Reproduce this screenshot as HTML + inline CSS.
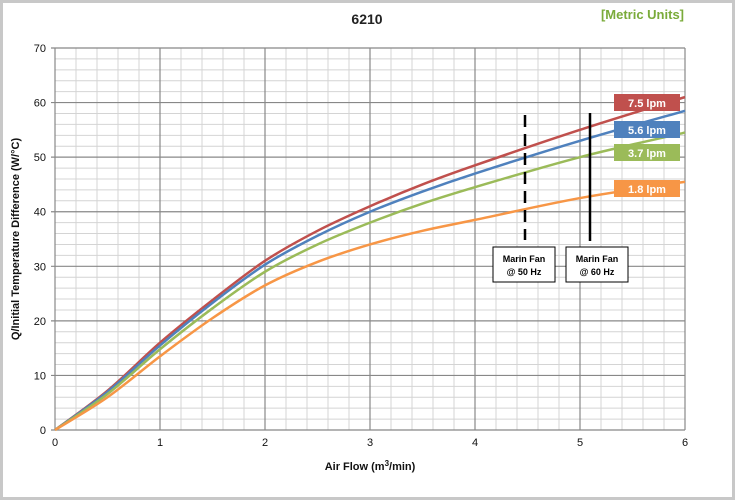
<!DOCTYPE html>
<html><head><meta charset="utf-8"><style>
body{margin:0;background:#fff}
svg{display:block;font-family:"Liberation Sans",Arial,sans-serif}
</style></head><body>
<svg id="s" width="735" height="500" viewBox="0 0 735 500">
<rect x="1.5" y="1.5" width="732" height="497" fill="#fff" stroke="#c8c8c8" stroke-width="3"/>
<g id="grid"></g>
<g id="curves"></g>
<text x="367" y="24" font-size="14" font-weight="bold" text-anchor="middle" fill="#222">6210</text>
<text x="684" y="19" font-size="13" font-weight="bold" text-anchor="end" fill="#7aab3a">[Metric Units]</text>
<text x="370" y="470" font-size="11" font-weight="bold" text-anchor="middle" fill="#111">Air Flow (m<tspan font-size="8" dy="-4">3</tspan><tspan dy="4">/min)</tspan></text>
<text transform="translate(19,239) rotate(-90)" font-size="11" font-weight="bold" text-anchor="middle" fill="#111">Q/Initial Temperature Difference (W/°C)</text>
<line x1="525" y1="115" x2="525" y2="240" stroke="#000" stroke-width="2.5" stroke-dasharray="12,7"/>
<line x1="590" y1="113" x2="590" y2="241" stroke="#000" stroke-width="2.5"/>
<rect x="493" y="247" width="62" height="35" fill="#fff" stroke="#000" stroke-width="1"/>
<text x="524" y="262" font-size="9" font-weight="bold" text-anchor="middle">Marin Fan</text>
<text x="524" y="275" font-size="9" font-weight="bold" text-anchor="middle">@ 50 Hz</text>
<rect x="566" y="247" width="62" height="35" fill="#fff" stroke="#000" stroke-width="1"/>
<text x="597" y="262" font-size="9" font-weight="bold" text-anchor="middle">Marin Fan</text>
<text x="597" y="275" font-size="9" font-weight="bold" text-anchor="middle">@ 60 Hz</text>
<g id="labels"></g>
</svg>
<script>
var ns="http://www.w3.org/2000/svg";
function X(v){return 55+v*105;}
function Y(v){return 430-v*5.457;}
function el(p,t,a){var e=document.createElementNS(ns,t);for(var k in a)e.setAttribute(k,a[k]);p.appendChild(e);return e;}
var g=document.getElementById("grid");
for(var i=0;i<=30;i++){if(i%5)el(g,"line",{x1:X(i/5),x2:X(i/5),y1:Y(0),y2:Y(70),stroke:"#d4d4d4","stroke-width":1});}
for(var i=0;i<=35;i++){if(i%5)el(g,"line",{x1:X(0),x2:X(6),y1:Y(i*2),y2:Y(i*2),stroke:"#d4d4d4","stroke-width":1});}
for(var i=0;i<=6;i++){el(g,"line",{x1:X(i),x2:X(i),y1:Y(0),y2:Y(70),stroke:"#888","stroke-width":1.2});
 var t=el(g,"text",{x:X(i),y:446,"font-size":11,"text-anchor":"middle",fill:"#111"});t.textContent=i;}
for(var i=0;i<=7;i++){el(g,"line",{x1:X(0)-4,x2:X(6),y1:Y(i*10),y2:Y(i*10),stroke:"#888","stroke-width":1.2});
 var t=el(g,"text",{x:46,y:Y(i*10)+4,"font-size":11,"text-anchor":"end",fill:"#111"});t.textContent=i*10;}
var data=[
["#c0504d",[[0,0],[0.5,7.2],[1,16],[1.5,23.8],[2,31],[2.5,36.5],[3,41],[3.5,45],[4,48.5],[5,55],[6,61]]],
["#4f81bd",[[0,0],[0.5,7],[1,15.5],[1.5,23.3],[2,30.3],[2.5,35.6],[3,40],[3.5,43.7],[4,47],[5,53],[6,58.5]]],
["#9bbb59",[[0,0],[0.5,6.6],[1,14.8],[1.5,22.3],[2,29],[2.5,34],[3,38],[3.5,41.5],[4,44.5],[5,50],[6,54.5]]],
["#f79646",[[0,0],[0.5,6],[1,13.5],[1.5,20.5],[2,26.5],[2.5,30.8],[3,34],[3.5,36.5],[4,38.5],[5,42.5],[6,45.5]]]];
var c=document.getElementById("curves");
data.forEach(function(d){var p=d[1].map(function(q){return[X(q[0]),Y(q[1])];});
 var s="M"+p[0][0]+","+p[0][1];
 for(var i=0;i<p.length-1;i++){var p0=p[Math.max(i-1,0)],p1=p[i],p2=p[i+1],p3=p[Math.min(i+2,p.length-1)];
  s+=" C"+(p1[0]+(p2[0]-p0[0])/6)+","+(p1[1]+(p2[1]-p0[1])/6)+" "+(p2[0]-(p3[0]-p1[0])/6)+","+(p2[1]-(p3[1]-p1[1])/6)+" "+p2[0]+","+p2[1];}
 el(c,"path",{d:s,fill:"none",stroke:d[0],"stroke-width":2.5});});
var L=document.getElementById("labels");
[["#c0504d",94,"7.5  lpm"],["#4f81bd",121,"5.6 lpm"],["#9bbb59",144,"3.7  lpm"],["#f79646",180,"1.8 lpm"]].forEach(function(l){
 el(L,"rect",{x:614,y:l[1],width:66,height:17,fill:l[0]});
 var t=el(L,"text",{x:647,y:l[1]+13,"font-size":11,"font-weight":"bold","text-anchor":"middle",fill:"#fff"});t.textContent=l[2];});
</script>
</body></html>
